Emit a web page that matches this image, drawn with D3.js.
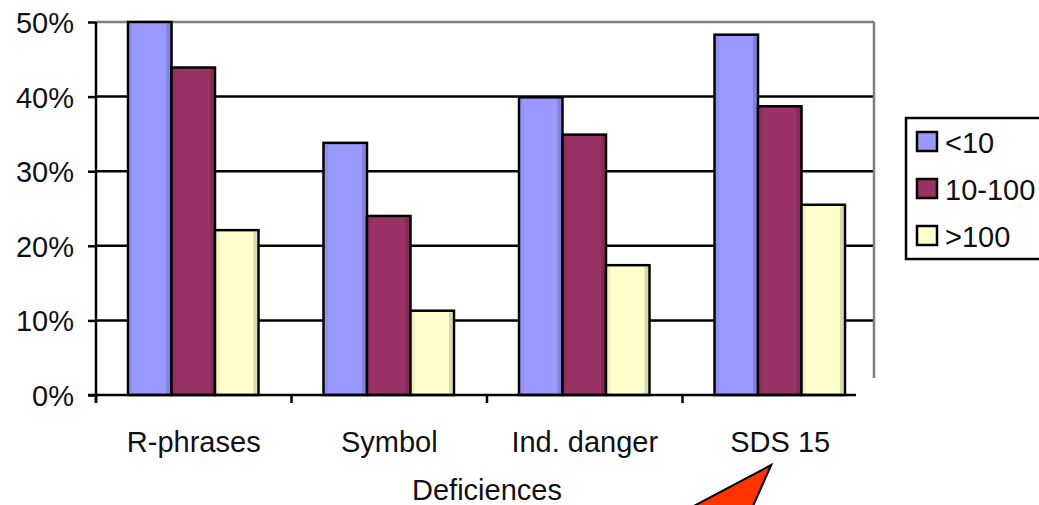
<!DOCTYPE html>
<html><head><meta charset="utf-8">
<script src="https://cdn.jsdelivr.net/npm/d3@7"></script>
<style>body{margin:0;background:#fff;} svg{display:block;font-family:"Liberation Sans",Arial,sans-serif;}</style>
</head><body>
<svg id="c" width="1039" height="505"></svg>
<script>
const categories = ["R-phrases", "Symbol", "Ind. danger", "SDS 15"];
const seriesNames = ["<10", "10-100", ">100"];
const seriesColors = ["#9999FF", "#993366", "#FFFFCC"];
const valsLt10 = [0.50, 0.338, 0.399, 0.483];
const vals10to100 = [0.439, 0.240, 0.349, 0.387];
const valsGt100 = [0.221, 0.113, 0.174, 0.255];
const yTicks = [0, 0.1, 0.2, 0.3, 0.4, 0.5];
const xTitle = "Deficiences";

(function () {
const series = [valsLt10, vals10to100, valsGt100];
const svg = d3.select("#c");
const pLeft = 96, pRight = 874, pTop = 22, pBottom = 395;

const x = d3.scaleBand().domain(categories).range([pLeft, pLeft + 4 * 195.5]).padding(0);
const xi = d3.scaleBand().domain(seriesNames).range([32, 32 + 3 * 43.5]).padding(0);
const y = d3.scaleLinear().domain([0, 0.5]).range([pBottom, pTop]);
const fmt = d3.format(".0%");

// gridlines
svg.append("g").selectAll("line").data(yTicks.filter(d => d > 0 && d < 0.5)).join("line")
  .attr("x1", pLeft).attr("x2", pRight).attr("y1", d => y(d)).attr("y2", d => y(d))
  .attr("stroke", "#000").attr("stroke-width", 2.5);
// top & right border (gray)
svg.append("line").attr("x1", pLeft).attr("x2", pRight).attr("y1", y(0.5)).attr("y2", y(0.5))
  .attr("stroke", "#808080").attr("stroke-width", 2.5);
svg.append("line").attr("x1", pRight).attr("x2", pRight).attr("y1", y(0.5)).attr("y2", 378)
  .attr("stroke", "#808080").attr("stroke-width", 2.5);

// bars
const gGroups = svg.append("g").selectAll("g").data(categories).join("g")
  .attr("transform", d => `translate(${x(d)},0)`);
gGroups.each(function(cat, ci) {
  const g = d3.select(this);
  seriesNames.forEach((s, si) => {
    const v = series[si][ci];
    const bx = xi(s), bw = xi.bandwidth();
    g.append("rect").attr("x", bx).attr("y", y(v)).attr("width", bw).attr("height", y(0) - y(v))
      .attr("fill", seriesColors[si]).attr("stroke", "#000").attr("stroke-width", 2.5);
    g.append("rect").attr("x", bx + bw - 5).attr("y", y(v) + 1.5).attr("width", 3.5).attr("height", y(0) - y(v) - 3)
      .attr("fill", "#000").attr("opacity", 0.15);
    g.append("rect").attr("x", bx + 1.5).attr("y", y(v) + 1.5).attr("width", 3).attr("height", y(0) - y(v) - 3)
      .attr("fill", "#000").attr("opacity", 0.06);
  });
});

// y axis
const yAxis = svg.append("g").attr("transform", `translate(${pLeft},0)`)
  .call(d3.axisLeft(y).tickValues(yTicks).tickFormat(fmt).tickSize(8).tickPadding(14));
yAxis.select(".domain").attr("stroke", "#000").attr("stroke-width", 2.5).attr("d", `M0,${pTop}V403`);
yAxis.selectAll(".tick line").attr("stroke", "#000").attr("stroke-width", 2.5);
yAxis.selectAll(".tick text").attr("font-size", 29).attr("fill", "#111")
  .attr("font-family", "Liberation Sans, Arial, sans-serif").attr("dy", "0.36em");

// x axis
const xAxis = svg.append("g").attr("transform", `translate(0,${pBottom})`)
  .call(d3.axisBottom(x).tickSize(0).tickPadding(36));
xAxis.select(".domain").attr("stroke", "#000").attr("stroke-width", 2.5).attr("d", `M88,0H856`);
xAxis.selectAll(".tick text").attr("font-size", 29).attr("fill", "#111")
  .attr("font-family", "Liberation Sans, Arial, sans-serif");
svg.append("g").selectAll("line").data(categories).join("line")
  .attr("x1", d => x(d)).attr("x2", d => x(d)).attr("y1", pBottom).attr("y2", pBottom + 8)
  .attr("stroke", "#000").attr("stroke-width", 2.5);

// x title
svg.append("text").attr("x", 487).attr("y", 500).attr("text-anchor", "middle")
  .attr("font-size", 29).attr("fill", "#111").text(xTitle);

// legend
const lg = svg.append("g");
lg.append("rect").attr("x", 906).attr("y", 118).attr("width", 140).attr("height", 141)
  .attr("fill", "#fff").attr("stroke", "#000").attr("stroke-width", 2.5);
seriesNames.forEach((s, i) => {
  const yy = 132 + i * 47;
  lg.append("rect").attr("x", 917).attr("y", yy).attr("width", 20).attr("height", 19)
    .attr("fill", seriesColors[i]).attr("stroke", "#000").attr("stroke-width", 2.5);
  lg.append("text").attr("x", 945).attr("y", yy + 21).attr("font-size", 29).attr("fill", "#111").text(s);
});

// red arrow annotation pointing at SDS 15
const ax = x("SDS 15") + x.bandwidth() / 2 - 9;
svg.append("polygon")
  .attr("points", `${ax},465 ${ax - 85},510 ${ax - 20},510`)
  .attr("fill", "#FF3300").attr("stroke", "#000").attr("stroke-width", 2);
})();
</script>
</body></html>
